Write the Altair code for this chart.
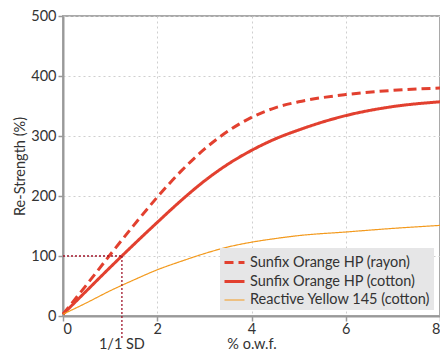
import altair as alt
import pandas as pd

x_vals = [0, 0.5, 1, 1.5, 2, 2.5, 3, 3.5, 4, 4.5, 5, 6, 7, 8]
rayon = [3, 52, 102, 151, 198, 241, 278, 308, 331, 347, 357, 369, 376, 380]
cotton = [3, 42, 81, 119, 156, 192, 225, 253, 276, 295, 310, 334, 349, 357]
yellow = [3, 22, 42, 60, 77, 91, 104, 115, 123, 129, 134, 140, 146, 151]
series = ["Sunfix Orange HP (rayon)", "Sunfix Orange HP (cotton)", "Reactive Yellow 145 (cotton)"]
colors = ["#e2402f", "#e2402f", "#f39a1e"]
dashes = [[9, 5], [1, 0], [1, 0]]
widths = [3, 3, 1.2]
ref_x = 1.25
ref_y = 100
ref_label = "1/1 SD"

rows = []
for s, ys in zip(series, [rayon, cotton, yellow]):
    for xv, yv in zip(x_vals, ys):
        rows.append({"x": xv, "y": yv, "series": s})
df = pd.DataFrame(rows)

W, H = 377, 300
font = "Lato"

lines = alt.Chart(df).mark_line(interpolate="monotone").encode(
    x=alt.X("x:Q", scale=alt.Scale(domain=[0, 8]),
            axis=alt.Axis(values=[0, 2, 4, 6, 8], title="% o.w.f.", titlePadding=2, labelPadding=1)),
    y=alt.Y("y:Q", scale=alt.Scale(domain=[0, 500]),
            axis=alt.Axis(values=[0, 100, 200, 300, 400, 500], title="Re-Strength (%)", titlePadding=3)),
    color=alt.Color("series:N", scale=alt.Scale(domain=series, range=colors),
                    legend=alt.Legend(title=None, orient="bottom-right", offset=6,
                                      fillColor="#e6e6e7", padding=3, symbolType="stroke",
                                      symbolSize=400, labelFontSize=14.5, labelFont=font,
                                      labelColor="#333", rowPadding=1, labelLimit=300)),
    strokeDash=alt.StrokeDash("series:N", scale=alt.Scale(domain=series, range=dashes), legend=None),
    strokeWidth=alt.StrokeWidth("series:N", scale=alt.Scale(type="ordinal", domain=series, range=widths), legend=None),
)

ref_df = pd.DataFrame({"x0": [0], "x1": [ref_x], "y": [ref_y], "label": [ref_label]})
hrule = alt.Chart(ref_df).mark_rule(color="#a0142a", strokeDash=[2, 2], strokeWidth=1.3).encode(
    x="x0:Q", x2="x1:Q", y="y:Q")
vrule = alt.Chart(ref_df).mark_rule(color="#a0142a", strokeDash=[2, 2], strokeWidth=1.3, clip=False).encode(
    x="x1:Q", y="y:Q", y2=alt.value(H + 22))
label = alt.Chart(ref_df).mark_text(font=font, fontSize=14.5, color="#333", baseline="middle", clip=False).encode(
    x="x1:Q", y=alt.value(H + 29), text="label:N")

chart = alt.layer(lines, hrule, vrule, label).properties(
    width=W, height=H,
    autosize=alt.AutoSizeParams(type="none"),
    padding={"left": 55, "top": 8, "right": 0, "bottom": 38},
).configure_view(stroke="#a9a9a9", strokeWidth=2).configure_axis(
    grid=True, gridColor="#cfcfcf", gridDash=[2, 3], gridWidth=1,
    domainColor="#999", domainWidth=2, tickColor="#999", tickSize=5, tickWidth=1.5,
    labelFont=font, labelFontSize=14.5, labelColor="#333",
    titleFont=font, titleFontSize=14.5, titleColor="#333", titleFontWeight="normal",
)

chart.save("out.html", embed_options={"renderer": "svg", "actions": False})
